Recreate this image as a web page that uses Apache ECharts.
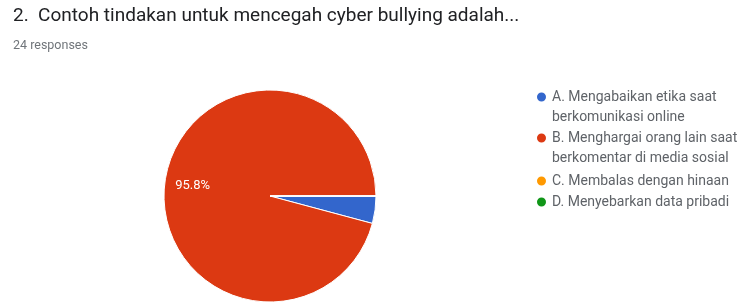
<!DOCTYPE html>
<html>
<head>
<meta charset="utf-8">
<script src="https://cdn.jsdelivr.net/npm/echarts@6/dist/echarts.min.js"></script>
<style>
  html, body { margin: 0; padding: 0; background: #fff; }
  #chart { width: 745px; height: 302px; }
</style>
</head>
<body>
<div id="chart"></div>
<script>
const titleText = '2.  Contoh tindakan untuk mencegah cyber bullying adalah...'
const responsesText = '24 responses'

const categories = [
  'A. Mengabaikan etika saat\nberkomunikasi online',
  'B. Menghargai orang lain saat\nberkomentar di media sosial',
  'C. Membalas dengan hinaan',
  'D. Menyebarkan data pribadi'
]
const counts = [1, 23, 0, 0]
const colors = ['#3366cc', '#dc3912', '#ff9900', '#109618']

// y of the first text line of each legend row
const legendRowY = [97, 138, 181, 202]
const lineH = 20

const chart = echarts.init(document.getElementById('chart'))

const pieData = categories.map((name, i) => ({
  name: name,
  value: counts[i],
  itemStyle: { color: colors[i] }
}))

const legendText = { fontFamily: 'Roboto', fontSize: 14, color: '#5f6368', lineHeight: lineH }

const legends = categories.map((name, i) => {
  const lines = name.split('\n')
  // an empty first line keeps the icon level with the first text line
  const rows = lines.length > 1 ? 3 : 1
  return {
    data: [name],
    orient: 'vertical',
    left: 535,
    top: legendRowY[i] - (rows * lineH) / 2,
    padding: 0,
    icon: 'circle',
    itemWidth: 11,
    itemHeight: 11,
    selectedMode: false,
    formatter: n => {
      const ls = n.split('\n').map(l => '{a|' + l + '}')
      return ls.length > 1 ? '{a| }\n' + ls.join('\n') : ls[0]
    },
    textStyle: {
      ...legendText,
      rich: { a: legendText }
    }
  }
})

const option = {
  animation: false,
  title: [
    {
      text: titleText,
      left: 8,
      top: 2,
      textStyle: { fontFamily: 'Roboto', fontSize: 19, fontWeight: 'normal', color: '#202124' }
    },
    {
      text: responsesText,
      left: 8,
      top: 34,
      textStyle: { fontFamily: 'Roboto', fontSize: 12.5, fontWeight: 'normal', color: '#70757a' }
    }
  ],
  legend: legends,
  series: [
    {
      type: 'pie',
      center: [270, 196],
      radius: [0, 106],
      startAngle: 0,
      clockwise: true,
      data: pieData,
      label: { show: false },
      labelLine: { show: false },
      itemStyle: { borderColor: '#fff', borderWidth: 1 },
      emphasis: { disabled: true }
    },
    {
      // overlay only for the percentage labels, placed further out like Google Forms
      type: 'pie',
      center: [270, 196],
      radius: [44, 106],
      startAngle: 0,
      clockwise: true,
      silent: true,
      data: pieData.map(d => ({ name: d.name, value: d.value })),
      itemStyle: { color: 'rgba(0,0,0,0)' },
      label: {
        show: true,
        position: 'inside',
        color: '#fff',
        fontFamily: 'Roboto',
        fontSize: 13,
        formatter: p => (p.percent >= 5 ? p.percent.toFixed(1) + '%' : '')
      },
      labelLine: { show: false },
      emphasis: { disabled: true }
    }
  ]
}

chart.setOption(option)
</script>
</body>
</html>
